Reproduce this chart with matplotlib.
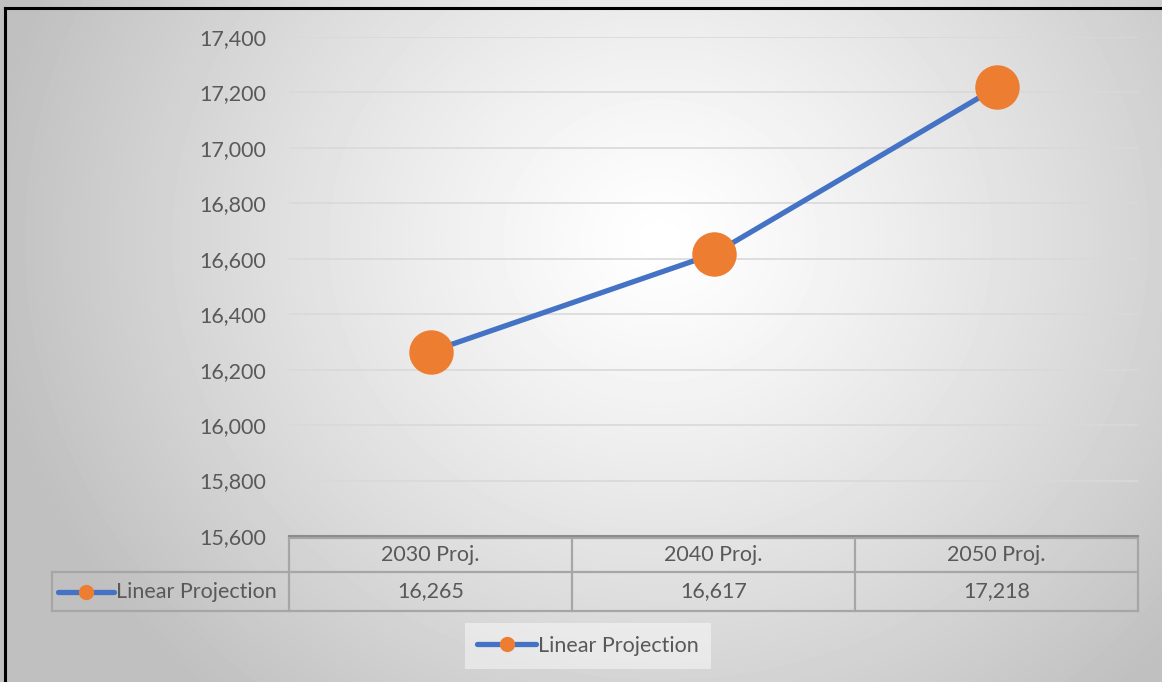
import numpy as np
import matplotlib
matplotlib.use("Agg")
import matplotlib.pyplot as plt
from matplotlib.lines import Line2D
from matplotlib.ticker import FuncFormatter
import matplotlib.transforms as mtransforms

# ---- data ----
categories = ["2030 Proj.", "2040 Proj.", "2050 Proj."]
values = [16265, 16617, 17218]
series_name = "Linear Projection"
y_ticks = [15600, 15800, 16000, 16200, 16400, 16600, 16800, 17000, 17200, 17400]

LINE_BLUE = "#4472C4"
ORANGE = "#ED7D31"
TEXT = "#595959"
GRID = "#D9D9D9"
CELL = "#A6A6A6"
FS = 15.5

plt.rcParams["font.family"] = ["Lato", "DejaVu Sans"]

W, H = 1162, 682
fig = plt.figure(figsize=(W / 100, H / 100), dpi=100)

# ---- background: radial gradient + black frame (top / left) ----
bg = fig.add_axes([0, 0, 1, 1], zorder=-10)
yy, xx = np.mgrid[0:H, 0:W]
d = np.sqrt(((xx - 660) / 1.0) ** 2 + ((yy - 240) / 0.9) ** 2)
shade = 1 - 0.25 * np.clip(d / 680, 0, 1) ** 1.2
bg.imshow(shade, cmap="gray", vmin=0, vmax=1, extent=[0, W, H, 0], aspect="auto")
bg.set_xlim(0, W)
bg.set_ylim(H, 0)
bg.plot([5, 5], [8, H], color="black", lw=2.2)
bg.plot([5, W], [8, 8], color="black", lw=2.2)
bg.axis("off")

# ---- main plot ----
ax = fig.add_axes([289 / W, 146 / H, 849 / W, 499 / H])
ax.patch.set_alpha(0)
x = np.arange(len(categories)) + 0.5
ax.plot(x, values, color=LINE_BLUE, lw=3.8, solid_capstyle="round", zorder=3)
ax.plot(x, values, "o", color=ORANGE, ms=32, mec="none", zorder=4)

ax.set_xlim(0, len(categories))
ax.set_ylim(y_ticks[0], y_ticks[-1])
ax.set_yticks(y_ticks)
ax.yaxis.set_major_formatter(FuncFormatter(lambda v, p: f"{int(v):,}"))
ax.tick_params(axis="y", length=0, pad=16.5, labelsize=FS, labelcolor=TEXT)
ax.set_xticks([])
ax.grid(axis="y", color=GRID, lw=1.2)
for s in ["top", "right", "left"]:
    ax.spines[s].set_visible(False)
ax.spines["bottom"].set_color("#8C8C8C")
ax.spines["bottom"].set_linewidth(1.5)

# ---- data table under the axis ----
px = 1 / 499
r0, r1, r2 = -2 * px, -36 * px, -75 * px
left_edge = (52 - 289) / 849
blend = mtransforms.blended_transform_factory(ax.transData, ax.transAxes)
lkw = dict(color=CELL, lw=1.6, clip_on=False)

# horizontal lines
ax.plot([0, 3], [r0, r0], transform=blend, **lkw)
ax.plot([left_edge, 1], [r1, r1], transform=ax.transAxes, **lkw)
ax.plot([left_edge, 1], [r2, r2], transform=ax.transAxes, **lkw)
# vertical lines
for i in range(len(categories) + 1):
    ax.plot([i, i], [r0, r2], transform=blend, **lkw)
ax.plot([left_edge, left_edge], [r1, r2], transform=ax.transAxes, **lkw)

for i, (c, v) in enumerate(zip(categories, values)):
    ax.text(i + 0.5, (r0 + r1) / 2, c, transform=blend, ha="center", va="center",
            fontsize=FS, color=TEXT)
    ax.text(i + 0.5, (r1 + r2) / 2, f"{v:,}", transform=blend, ha="center", va="center",
            fontsize=FS, color=TEXT)

# legend key inside the table row header
ym = (r1 + r2) / 2
kx0 = left_edge + 6 / 849
kx1 = left_edge + 62 / 849
ax.add_line(Line2D([kx0, kx1], [ym, ym], transform=ax.transAxes, color=LINE_BLUE,
                   lw=3.8, solid_capstyle="round", clip_on=False))
ax.add_line(Line2D([(kx0 + kx1) / 2], [ym], transform=ax.transAxes, marker="o",
                   color=ORANGE, ms=11, mec="none", clip_on=False))
ax.text(kx1 + 2 / 849, ym, series_name, transform=ax.transAxes, ha="left", va="center",
        fontsize=FS, color=TEXT)

# ---- legend ----
handle = Line2D([], [], color=LINE_BLUE, lw=3.8, marker="o", ms=11, mfc=ORANGE,
                mec="none", solid_capstyle="round")
leg = fig.legend([handle], [series_name], loc="center", bbox_to_anchor=(588 / W, 1 - 646 / H),
                 frameon=True, fontsize=FS, handlelength=2.7, handletextpad=0.1,
                 borderpad=0.6, fancybox=False, numpoints=1)
leg.get_frame().set_facecolor("white")
leg.get_frame().set_alpha(0.45)
leg.get_frame().set_edgecolor("none")
for t in leg.get_texts():
    t.set_color(TEXT)

fig.savefig("out.png", dpi=100)
